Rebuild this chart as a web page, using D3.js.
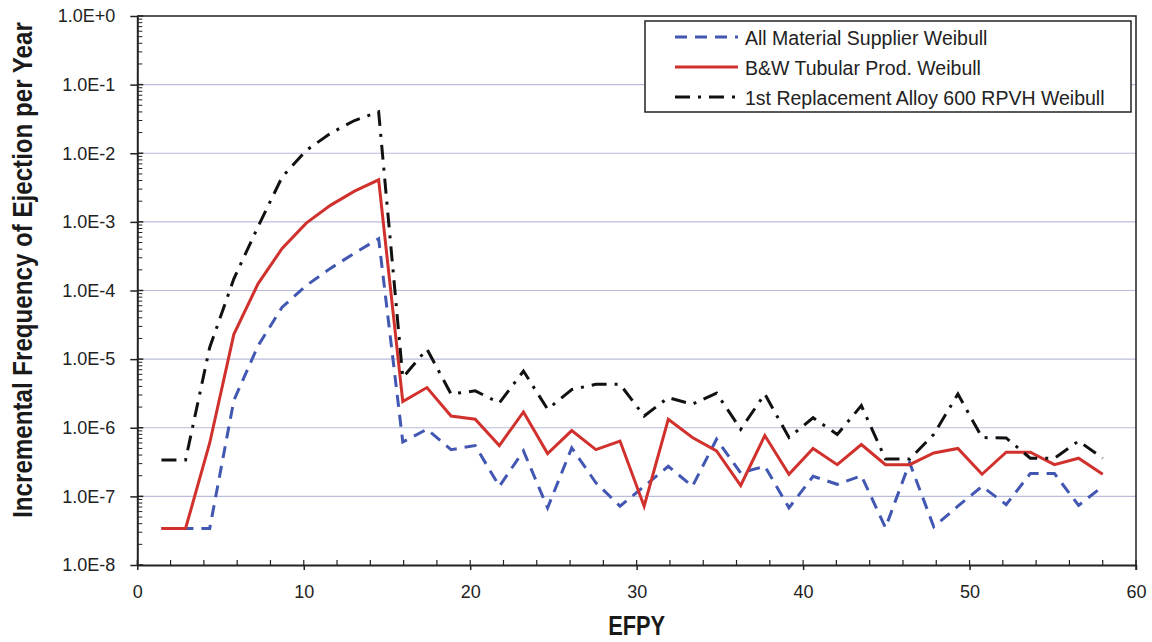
<!DOCTYPE html>
<html>
<head>
<meta charset="utf-8">
<script src="https://cdn.jsdelivr.net/npm/d3@7"></script>
<style>
  body { margin: 0; background: #fff; }
  svg { display: block; }
</style>
</head>
<body>
<svg id="chart" width="1152" height="642"></svg>
<script>
// Effective full power years at which each incremental frequency is evaluated
const efpy = [1.45, 2.9, 4.35, 5.8, 7.25, 8.7, 10.15, 11.6, 13.05, 14.5,
              15.95, 17.4, 18.85, 20.3, 21.75, 23.2, 24.65, 26.1, 27.55, 29,
              30.45, 31.9, 33.35, 34.8, 36.25, 37.7, 39.15, 40.6, 42.05, 43.5,
              44.95, 46.4, 47.85, 49.3, 50.75, 52.2, 53.65, 55.1, 56.55, 58];

// Incremental frequency of ejection per year, one array per Weibull model
const allMaterial = [3.4e-8, 3.4e-8, 3.4e-8, 2.5e-6, 1.56e-5, 5.7e-5, 1.18e-4, 2.1e-4, 3.5e-4, 5.7e-4,
                     6.2e-7, 9.5e-7, 4.8e-7, 5.5e-7, 1.4e-7, 4.6e-7, 6.8e-8, 5.1e-7, 1.58e-7, 7.2e-8,
                     1.4e-7, 2.75e-7, 1.4e-7, 6.8e-7, 2.2e-7, 2.75e-7, 6.8e-8, 1.96e-7, 1.5e-7, 2.0e-7,
                     3.5e-8, 3.1e-7, 3.6e-8, 7.2e-8, 1.4e-7, 7.6e-8, 2.15e-7, 2.15e-7, 7.4e-8, 1.4e-7];

const bwTubular = [3.4e-8, 3.4e-8, 6.0e-7, 2.3e-5, 1.25e-4, 4.1e-4, 9.6e-4, 1.74e-3, 2.8e-3, 4.1e-3,
                   2.4e-6, 3.85e-6, 1.48e-6, 1.33e-6, 5.5e-7, 1.7e-6, 4.2e-7, 9.1e-7, 4.8e-7, 6.4e-7,
                   7.2e-8, 1.33e-6, 7.2e-7, 4.6e-7, 1.44e-7, 7.7e-7, 2.1e-7, 5.0e-7, 2.9e-7, 5.7e-7,
                   2.9e-7, 2.9e-7, 4.3e-7, 5.0e-7, 2.1e-7, 4.4e-7, 4.4e-7, 2.9e-7, 3.6e-7, 2.1e-7];

const firstReplacement = [3.4e-7, 3.4e-7, 1.48e-5, 1.48e-4, 8.5e-4, 4.5e-3, 1.1e-2, 1.95e-2, 3.0e-2, 4.0e-2,
                          5.4e-6, 1.4e-5, 3.1e-6, 3.45e-6, 2.3e-6, 6.7e-6, 1.86e-6, 3.6e-6, 4.3e-6, 4.3e-6,
                          1.48e-6, 2.75e-6, 2.2e-6, 3.2e-6, 9.5e-7, 3.1e-6, 7.2e-7, 1.4e-6, 8.0e-7, 2.1e-6,
                          3.5e-7, 3.5e-7, 8.0e-7, 3.1e-6, 7.2e-7, 7.1e-7, 3.6e-7, 3.6e-7, 6.4e-7, 3.6e-7];

const seriesNames = ["All Material Supplier Weibull",
                     "B&W Tubular Prod. Weibull",
                     "1st Replacement Alloy 600 RPVH Weibull"];

const yTickValues = [1, 1e-1, 1e-2, 1e-3, 1e-4, 1e-5, 1e-6, 1e-7, 1e-8];
const xTickValues = [0, 10, 20, 30, 40, 50, 60];
const xMinorValues = [2, 4, 6, 8, 12, 14, 16, 18, 22, 24, 26, 28, 32, 34, 36, 38,
                      42, 44, 46, 48, 52, 54, 56, 58];

const xLabel = "EFPY";
const yLabel = "Incremental Frequency of Ejection per Year";

// ---- layout and scales ----
const svg = d3.select("#chart");
const plot = { left: 137.3, right: 1136, top: 16, bottom: 565 };

const x = d3.scaleLinear().domain([0, 60]).range([plot.left, plot.right]);
const y = d3.scaleLog().domain([1e-8, 1]).range([plot.bottom, plot.top]);

const tickFont = "'Liberation Sans', Arial, sans-serif";
const narrowBold = "'Liberation Sans Narrow', 'Arial Narrow', 'Liberation Sans', Arial, sans-serif";
const axisColor = "#222";

// horizontal gridlines at each decade
svg.append("g")
  .selectAll("line")
  .data(yTickValues.filter(v => v < 1 && v > 1e-8))
  .join("line")
  .attr("x1", plot.left).attr("x2", plot.right)
  .attr("y1", d => y(d)).attr("y2", d => y(d))
  .attr("stroke", "#b9bddb")
  .attr("stroke-width", 1.2);

// plot frame (top and right)
svg.append("path")
  .attr("d", `M${plot.left},${plot.top}H${plot.right}V${plot.bottom + 5}`)
  .attr("fill", "none")
  .attr("stroke", axisColor)
  .attr("stroke-width", 1.5);

// ---- y axis ----
const fmtExp = v => {
  const e = Math.round(Math.log10(v));
  return "1.0E" + (e === 0 ? "+0" : String(e));
};

const yAxis = svg.append("g")
  .attr("transform", `translate(${plot.left},0)`)
  .call(d3.axisLeft(y).tickValues(yTickValues).tickFormat(fmtExp)
        .tickSizeInner(7).tickSizeOuter(0).tickPadding(15));
yAxis.select(".domain").attr("stroke", axisColor).attr("stroke-width", 2);
yAxis.selectAll(".tick line").attr("stroke", axisColor).attr("stroke-width", 1.5);
yAxis.selectAll(".tick text")
  .attr("font-family", tickFont).attr("font-size", 18).attr("fill", "#222");

// major ticks cross the axis; log minor ticks sit inside
const yMinor = [];
yTickValues.slice(1).forEach(d => { for (let m = 2; m <= 9; m++) yMinor.push(m * d); });
svg.append("g")
  .selectAll("line")
  .data(yMinor)
  .join("line")
  .attr("x1", plot.left).attr("x2", plot.left + 5)
  .attr("y1", d => y(d)).attr("y2", d => y(d))
  .attr("stroke", axisColor).attr("stroke-width", 1);
svg.append("g")
  .selectAll("line")
  .data(yTickValues)
  .join("line")
  .attr("x1", plot.left).attr("x2", plot.left + 6)
  .attr("y1", d => y(d)).attr("y2", d => y(d))
  .attr("stroke", axisColor).attr("stroke-width", 1.5);

// ---- x axis ----
const xAxis = svg.append("g")
  .attr("transform", `translate(0,${plot.bottom})`)
  .call(d3.axisBottom(x).tickValues(xTickValues)
        .tickSizeInner(5).tickSizeOuter(0).tickPadding(15));
xAxis.select(".domain").attr("stroke", axisColor).attr("stroke-width", 2);
xAxis.selectAll(".tick line").attr("stroke", axisColor).attr("stroke-width", 1.5);
xAxis.selectAll(".tick text")
  .attr("font-family", tickFont).attr("font-size", 18).attr("fill", "#222");

svg.append("g")
  .selectAll("line")
  .data(xTickValues.concat(xMinorValues))
  .join("line")
  .attr("x1", d => x(d)).attr("x2", d => x(d))
  .attr("y1", plot.bottom).attr("y2", plot.bottom - 5)
  .attr("stroke", axisColor).attr("stroke-width", 1.2);

// ---- axis titles (condensed bold, squeezed horizontally to a target width) ----
function condensedTitle(label, cx, cy, angle, targetWidth) {
  const g = svg.append("g").attr("transform", `translate(${cx},${cy}) rotate(${angle})`);
  const t = g.append("text")
    .attr("text-anchor", "middle")
    .attr("font-family", narrowBold)
    .attr("font-weight", "bold")
    .attr("font-size", 28)
    .attr("fill", "#1a1a1a")
    .text(label);
  const natural = t.node().getComputedTextLength();
  const k = Math.min(1, targetWidth / natural);
  t.attr("transform", `scale(${k},1)`);
}

condensedTitle(xLabel, (plot.left + plot.right) / 2, 635, 0, 57);
condensedTitle(yLabel, 32, 270, -90, 496);

// ---- series ----
const styles = [
  { values: allMaterial,      color: "#4257b2", dash: "12,8" },
  { values: bwTubular,        color: "#d1312d", dash: null },
  { values: firstReplacement, color: "#111111", dash: "15,8,3,8" }
];

const line = d3.line()
  .x((d, i) => x(efpy[i]))
  .y(d => y(d));

svg.append("g")
  .selectAll("path")
  .data(styles)
  .join("path")
  .attr("d", d => line(d.values))
  .attr("fill", "none")
  .attr("stroke", d => d.color)
  .attr("stroke-width", 3)
  .attr("stroke-linejoin", "miter")
  .attr("stroke-dasharray", d => d.dash);

// ---- legend ----
const legend = svg.append("g");
legend.append("rect")
  .attr("x", 645).attr("y", 21)
  .attr("width", 486).attr("height", 91)
  .attr("fill", "#fff")
  .attr("stroke", axisColor)
  .attr("stroke-width", 1.5);

const rows = legend.selectAll("g.row")
  .data(styles)
  .join("g")
  .attr("class", "row")
  .attr("transform", (d, i) => `translate(0,${37 + i * 30})`);

rows.append("line")
  .attr("x1", 675).attr("x2", 738)
  .attr("y1", 0).attr("y2", 0)
  .attr("stroke", d => d.color)
  .attr("stroke-width", 3)
  .attr("stroke-dasharray", d => d.dash);

rows.append("text")
  .attr("x", 745).attr("y", 7.5)
  .attr("font-family", tickFont)
  .attr("font-size", 19.5)
  .attr("fill", "#222")
  .text((d, i) => seriesNames[i]);
</script>
</body>
</html>
